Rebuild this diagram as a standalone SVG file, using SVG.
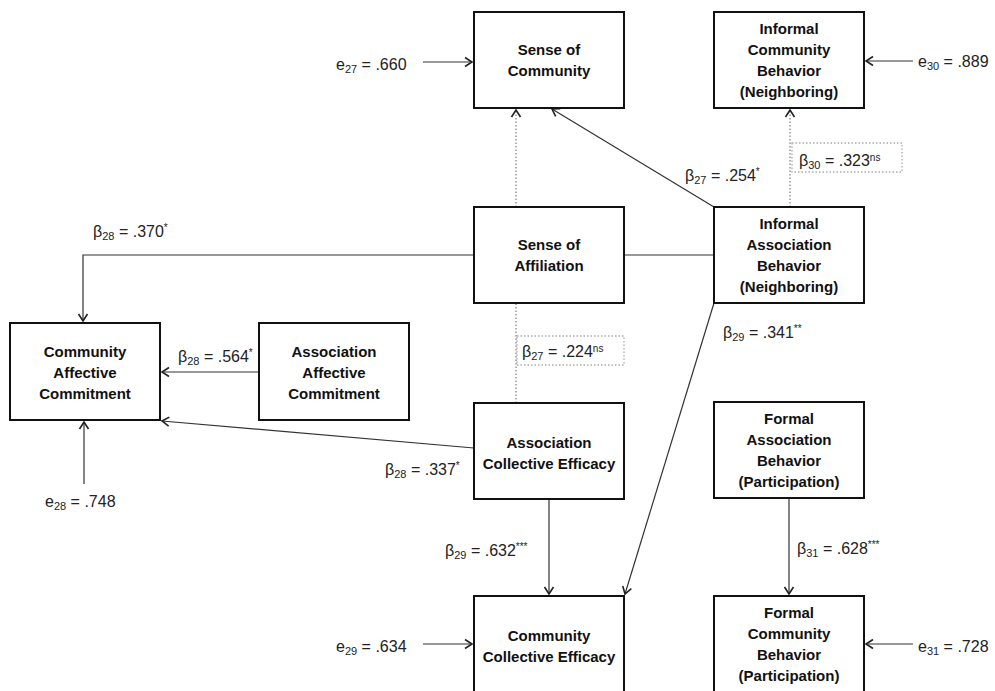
<svg xmlns="http://www.w3.org/2000/svg" width="995" height="691" viewBox="0 0 995 691">
  <defs>
    <marker id="arrow" markerUnits="userSpaceOnUse" markerWidth="12" markerHeight="12" viewBox="0 0 12 12" refX="10" refY="6" orient="auto">
      <path d="M3,1.5 L10,6 L3,10.5" fill="none" stroke="#222" stroke-width="1.6"/>
    </marker>
    <style>
      .box { fill: #fff; stroke: #111; stroke-width: 2; }
      .name { font-family: "Liberation Sans", Arial, sans-serif; font-weight: bold; font-size: 15px; fill: #111; text-anchor: middle; }
      .lbl { font-family: "Liberation Sans", Arial, sans-serif; font-size: 16px; fill: #222; }
      .sub { font-size: 11px; }
      .sup { font-size: 10px; }
      .path { fill: none; stroke: #333; stroke-width: 1.2; }
      .dot { fill: none; stroke: #999; stroke-width: 1.5; stroke-dasharray: 1.5 2; }
      .dotbox { fill: none; stroke: #aaa; stroke-width: 1.3; stroke-dasharray: 1.5 2; }
    </style>
  </defs>

  <!-- connectors -->
  <g id="connectors">
    <!-- residuals -->
    <line class="path" x1="423" y1="62" x2="472" y2="62" marker-end="url(#arrow)"/>
    <line class="path" x1="913" y1="61" x2="866" y2="61" marker-end="url(#arrow)"/>
    <line class="path" x1="84" y1="484" x2="84" y2="422" marker-end="url(#arrow)"/>
    <line class="path" x1="423" y1="644" x2="472" y2="644" marker-end="url(#arrow)"/>
    <line class="path" x1="913" y1="644" x2="866" y2="644" marker-end="url(#arrow)"/>

    <!-- non-significant paths -->
    <line class="dot" x1="516" y1="403" x2="516" y2="303"/>
    <line class="dot" x1="516" y1="207" x2="516" y2="110" marker-end="url(#arrow)"/>
    <line class="dot" x1="790" y1="207" x2="790" y2="110" marker-end="url(#arrow)"/>

    <!-- significant paths -->
    <line class="path" x1="714" y1="207" x2="552" y2="109" marker-end="url(#arrow)"/>
    <line class="path" x1="624" y1="255" x2="714" y2="255"/>
    <polyline class="path" points="474,255 83,255 83,321" marker-end="url(#arrow)"/>
    <line class="path" x1="259" y1="372" x2="162" y2="372" marker-end="url(#arrow)"/>
    <line class="path" x1="474" y1="448" x2="162" y2="421" marker-end="url(#arrow)"/>
    <line class="path" x1="714" y1="303" x2="625" y2="594" marker-end="url(#arrow)"/>
    <line class="path" x1="549" y1="499" x2="549" y2="594" marker-end="url(#arrow)"/>
    <line class="path" x1="789" y1="498" x2="789" y2="594" marker-end="url(#arrow)"/>
  </g>

  <!-- nodes -->
  <g id="sense-of-community">
    <rect class="box" x="474" y="12" width="150" height="96"/>
    <text class="name" x="549" y="55">Sense of</text>
    <text class="name" x="549" y="76">Community</text>
  </g>
  <g id="informal-community-behavior">
    <rect class="box" x="714" y="12" width="150" height="96"/>
    <text class="name" x="789" y="34">Informal</text>
    <text class="name" x="789" y="55">Community</text>
    <text class="name" x="789" y="76">Behavior</text>
    <text class="name" x="789" y="97">(Neighboring)</text>
  </g>
  <g id="sense-of-affiliation">
    <rect class="box" x="474" y="207" width="150" height="96"/>
    <text class="name" x="549" y="250">Sense of</text>
    <text class="name" x="549" y="271">Affiliation</text>
  </g>
  <g id="informal-association-behavior">
    <rect class="box" x="714" y="207" width="150" height="96"/>
    <text class="name" x="789" y="229">Informal</text>
    <text class="name" x="789" y="250">Association</text>
    <text class="name" x="789" y="271">Behavior</text>
    <text class="name" x="789" y="292">(Neighboring)</text>
  </g>
  <g id="community-affective-commitment">
    <rect class="box" x="10" y="323" width="150" height="97"/>
    <text class="name" x="85" y="357">Community</text>
    <text class="name" x="85" y="378">Affective</text>
    <text class="name" x="85" y="399">Commitment</text>
  </g>
  <g id="association-affective-commitment">
    <rect class="box" x="259" y="323" width="150" height="97"/>
    <text class="name" x="334" y="357">Association</text>
    <text class="name" x="334" y="378">Affective</text>
    <text class="name" x="334" y="399">Commitment</text>
  </g>
  <g id="association-collective-efficacy">
    <rect class="box" x="474" y="403" width="150" height="96"/>
    <text class="name" x="549" y="448">Association</text>
    <text class="name" x="549" y="469">Collective Efficacy</text>
  </g>
  <g id="formal-association-behavior">
    <rect class="box" x="714" y="402" width="150" height="96"/>
    <text class="name" x="789" y="424">Formal</text>
    <text class="name" x="789" y="445">Association</text>
    <text class="name" x="789" y="466">Behavior</text>
    <text class="name" x="789" y="487">(Participation)</text>
  </g>
  <g id="community-collective-efficacy">
    <rect class="box" x="474" y="596" width="150" height="96"/>
    <text class="name" x="549" y="641">Community</text>
    <text class="name" x="549" y="662">Collective Efficacy</text>
  </g>
  <g id="formal-community-behavior">
    <rect class="box" x="714" y="596" width="150" height="96"/>
    <text class="name" x="789" y="618">Formal</text>
    <text class="name" x="789" y="639">Community</text>
    <text class="name" x="789" y="660">Behavior</text>
    <text class="name" x="789" y="681">(Participation)</text>
  </g>

  <!-- coefficient labels -->
  <g id="labels">
    <text class="lbl" x="336" y="70">e<tspan class="sub" dy="3">27</tspan><tspan dy="-3"> = .660</tspan></text>
    <text class="lbl" x="918" y="67">e<tspan class="sub" dy="3">30</tspan><tspan dy="-3"> = .889</tspan></text>
    <text class="lbl" x="45" y="507">e<tspan class="sub" dy="3">28</tspan><tspan dy="-3"> = .748</tspan></text>
    <text class="lbl" x="336" y="652">e<tspan class="sub" dy="3">29</tspan><tspan dy="-3"> = .634</tspan></text>
    <text class="lbl" x="918" y="652">e<tspan class="sub" dy="3">31</tspan><tspan dy="-3"> = .728</tspan></text>

    <text class="lbl" x="685" y="181">β<tspan class="sub" dy="3">27</tspan><tspan dy="-3"> = .254</tspan><tspan class="sup" dy="-6">*</tspan></text>
    <rect class="dotbox" x="792" y="143" width="110" height="29"/>
    <text class="lbl" x="799" y="166">β<tspan class="sub" dy="3">30</tspan><tspan dy="-3"> = .323</tspan><tspan class="sup" dy="-5">ns</tspan></text>
    <text class="lbl" x="93" y="237">β<tspan class="sub" dy="3">28</tspan><tspan dy="-3"> = .370</tspan><tspan class="sup" dy="-6">*</tspan></text>
    <text class="lbl" x="178" y="362">β<tspan class="sub" dy="3">28</tspan><tspan dy="-3"> = .564</tspan><tspan class="sup" dy="-6">*</tspan></text>
    <rect class="dotbox" x="517" y="336" width="107" height="29"/>
    <text class="lbl" x="522" y="357">β<tspan class="sub" dy="3">27</tspan><tspan dy="-3"> = .224</tspan><tspan class="sup" dy="-5">ns</tspan></text>
    <text class="lbl" x="723" y="338">β<tspan class="sub" dy="3">29</tspan><tspan dy="-3"> = .341</tspan><tspan class="sup" dy="-6">**</tspan></text>
    <text class="lbl" x="385" y="475">β<tspan class="sub" dy="3">28</tspan><tspan dy="-3"> = .337</tspan><tspan class="sup" dy="-6">*</tspan></text>
    <text class="lbl" x="445" y="556">β<tspan class="sub" dy="3">29</tspan><tspan dy="-3"> = .632</tspan><tspan class="sup" dy="-6">***</tspan></text>
    <text class="lbl" x="797" y="554">β<tspan class="sub" dy="3">31</tspan><tspan dy="-3"> = .628</tspan><tspan class="sup" dy="-6">***</tspan></text>
  </g>
</svg>
